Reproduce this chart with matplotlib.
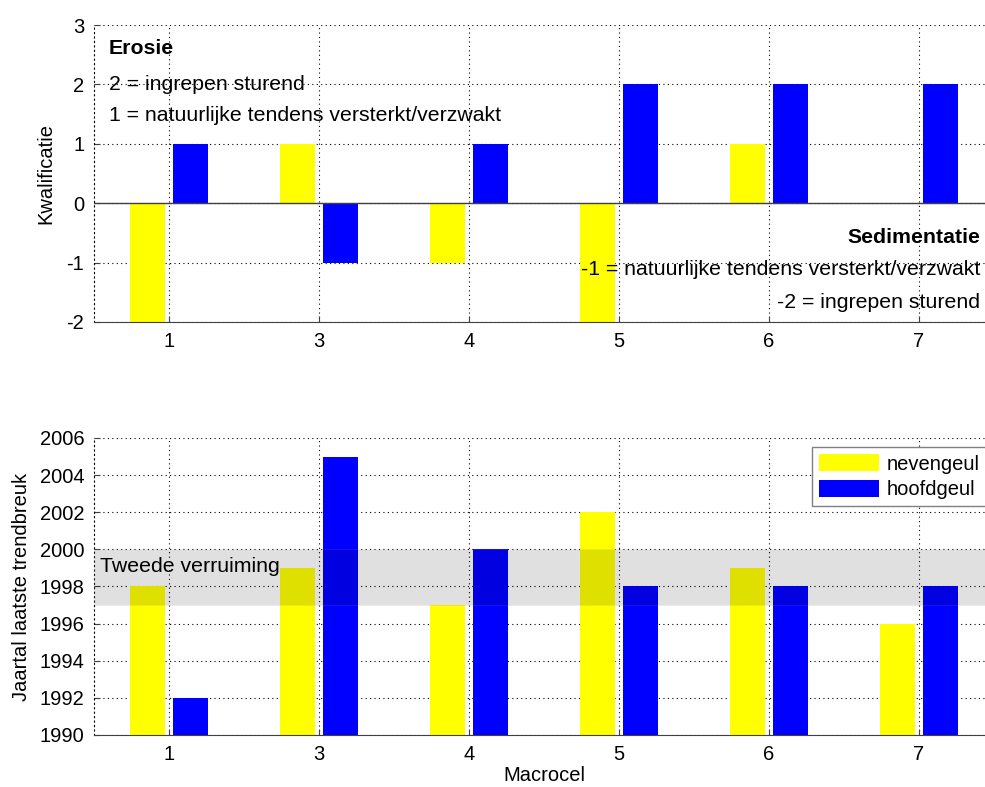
import matplotlib
matplotlib.use("Agg")
import matplotlib.pyplot as plt
import numpy as np

plt.rcParams['font.family'] = ['Liberation Sans', 'DejaVu Sans']
plt.rcParams['font.size'] = 14.5
plt.rcParams['axes.unicode_minus'] = False

macrocel = ['1', '3', '4', '5', '6', '7']
kwal_neven = [-2, 1, -1, -2, 1, 0]
kwal_hoofd = [1, -1, 1, 2, 2, 2]
jaar_neven = [1998, 1999, 1997, 2002, 1999, 1996]
jaar_hoofd = [1992, 2005, 2000, 1998, 1998, 1998]
verruiming = (1997, 2000)

YELLOW = '#ffff00'
BLUE = '#0000ff'
TXT = 15.3

x = np.arange(1, len(macrocel) + 1)
off = 0.143
w = 0.233

fig = plt.figure(figsize=(9.85, 7.87), dpi=100)
ax1 = fig.add_axes([0.0954, 0.5909, 0.9137, 0.3773])
ax2 = fig.add_axes([0.0954, 0.0661, 0.9137, 0.3774])


def style(ax):
    ax.set_xlim(0.5, len(macrocel) + 0.5)
    ax.set_xticks(x)
    ax.set_xticklabels(macrocel)
    ax.grid(True, color='k', linestyle=(0, (1, 3)), linewidth=0.8)
    ax.set_axisbelow(True)
    for s in ['top', 'right']:
        ax.spines[s].set_visible(False)
    ax.spines['left'].set_linestyle((0, (1, 3)))
    ax.spines['left'].set_linewidth(0.8)
    ax.spines['bottom'].set_color('#404040')
    ax.tick_params(direction='in', length=4, width=0.8, color='#404040', pad=7)


ax1.bar(x - off, kwal_neven, w, color=YELLOW, zorder=2)
ax1.bar(x + off, kwal_hoofd, w, color=BLUE, zorder=2)
ax1.axhline(0, color='#404040', linewidth=1, zorder=3)
style(ax1)
ax1.set_ylim(-2, 3)
ax1.set_yticks(range(-2, 4))
ax1.set_ylabel('Kwalificatie', labelpad=8)

ax1.text(0.6, 2.6, 'Erosie', fontweight='bold', va='center', fontsize=TXT)
ax1.text(0.6, 2.0, '2 = ingrepen sturend', va='center', fontsize=TXT)
ax1.text(0.6, 1.47, '1 = natuurlijke tendens versterkt/verzwakt', va='center', fontsize=TXT)
ax1.text(6.41, -0.57, 'Sedimentatie', fontweight='bold', va='center', ha='right', fontsize=TXT)
ax1.text(6.41, -1.12, '-1 = natuurlijke tendens versterkt/verzwakt', va='center', ha='right',
         fontsize=TXT)
ax1.text(6.41, -1.67, '-2 = ingrepen sturend', va='center', ha='right', fontsize=TXT)

ax2.bar(x - off, jaar_neven, w, bottom=0, color=YELLOW, zorder=2, label='nevengeul')
ax2.bar(x + off, jaar_hoofd, w, bottom=0, color=BLUE, zorder=2, label='hoofdgeul')
ax2.axhspan(verruiming[0], verruiming[1], facecolor='k', alpha=0.12,
            edgecolor='#c8c8c8', linewidth=0.6, zorder=4)
style(ax2)
ax2.set_ylim(1990, 2006)
ax2.set_yticks(range(1990, 2007, 2))
ax2.set_ylabel('Jaartal laatste trendbreuk', labelpad=6)
ax2.set_xlabel('Macrocel', labelpad=2)
ax2.text(0.54, 1999.1, 'Tweede verruiming', va='center', zorder=5, fontsize=TXT)

leg = ax2.legend(loc='upper right', bbox_to_anchor=(0.9915, 0.97), handlelength=3.0,
                 handleheight=0.95, fancybox=False, framealpha=1, edgecolor='#808080',
                 borderpad=0.35, labelspacing=0.3, handletextpad=0.35, borderaxespad=0,
                 fontsize=14.5)
leg.get_frame().set_linewidth(1)

fig.savefig('out.png', dpi=100)
